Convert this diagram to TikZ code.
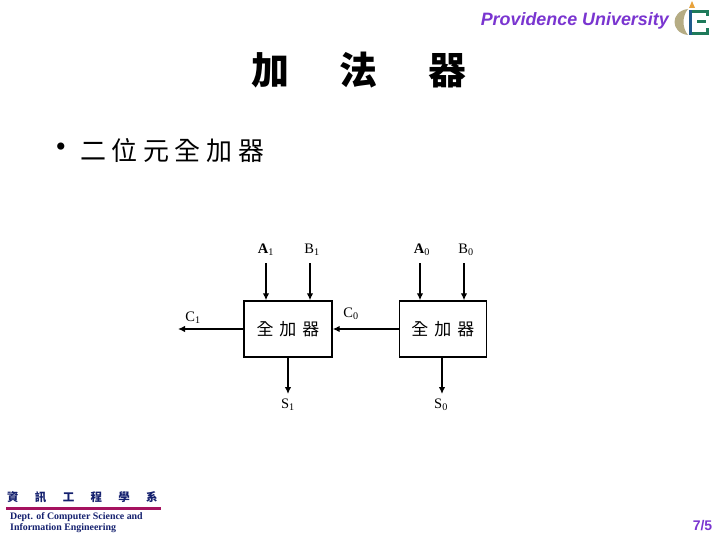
\documentclass[tikz,border=0pt]{standalone}
\usepackage{fontspec}
\setmainfont{Liberation Serif}
\setsansfont{Liberation Sans}
\newfontfamily\cjk{Noto Sans CJK TC}
\usetikzlibrary{positioning, arrows.meta, calc}
\definecolor{provPurple}{HTML}{7A35D0}
\definecolor{deptNavy}{HTML}{14206E}
\definecolor{ruleRed}{HTML}{A5125F}
\definecolor{logoTan}{HTML}{B5AC84}
\definecolor{logoGreen}{HTML}{1F7A5A}
\definecolor{logoBlue}{HTML}{1F5A8C}
\definecolor{logoFlame}{HTML}{E8A23C}

\begin{document}
\begin{tikzpicture}[
        x=1pt, y=-1pt,
        % Estilos de los nodos
        adder/.style={
            rectangle,
            draw=black,
            line width=1.4pt,
            minimum width=88pt,
            minimum height=56pt,
            inner sep=0pt,
            font=\cjk\fontsize{17}{17}\selectfont
        },
        portlabel/.style={inner sep=0pt, font=\fontsize{14.5}{14.5}\selectfont},
        % Estilos de las flechas
        arrow/.style={-{Latex[length=7pt,width=6.5pt]}, line width=1.3pt, color=black}
    ]
    \useasboundingbox (0,0) rectangle (720,540);

    % -- Encabezado --
    \node[inner sep=0pt, anchor=east, text=provPurple, font=\sffamily\bfseries\itshape\fontsize{17.9}{17.9}\selectfont] (univ) at (669,21) {Providence University};
    \fill[logoTan] (688,9) .. controls (670,11) and (670,33) .. (688,35) .. controls (682,28) and (682,16) .. (688,9) -- cycle;
    \fill[logoFlame] (692,1) -- (695,8) -- (689,8) -- cycle;
    \fill[logoBlue] (689,10) rectangle (692,35);
    \fill[logoGreen] (692,10) rectangle (709,13);
    \fill[logoGreen] (692,32) rectangle (709,35);
    \fill[logoGreen] (697,20) rectangle (706,23);
    \fill[logoGreen] (706,10) rectangle (709,16);
    \fill[logoGreen] (706,28) rectangle (709,35);

    \node[inner sep=0pt, font=\cjk\bfseries\fontsize{38}{38}\selectfont] (title) at (359,70) {加\hspace{50pt}法\hspace{51pt}器};
    \node[inner sep=0pt, font=\fontsize{30}{30}\selectfont] (bullet) at (61,150) {•};
    \node[inner sep=0pt, anchor=west, font=\cjk\fontsize{26}{26}\selectfont] (sub) at (80,151) {二\hspace{5.6pt}位\hspace{5.6pt}元\hspace{5.6pt}全\hspace{5.6pt}加\hspace{5.6pt}器};

    % -- Sumadores --
    \node[adder, minimum width=88pt] (fa1) at (288,329) {全\hspace{6pt}加\hspace{6pt}器};
    \node[adder, minimum width=87pt, right=66pt of fa1] (fa0) {全\hspace{6pt}加\hspace{6pt}器};

    % -- Etiquetas --
    \node[portlabel] (a1) at (266,250) {\textbf{A}\textsubscript{1}};
    \node[portlabel] (b1) at (312,250) {B\textsubscript{1}};
    \node[portlabel] (a0) at (422,250) {\textbf{A}\textsubscript{0}};
    \node[portlabel] (b0) at (466,250) {B\textsubscript{0}};
    \node[portlabel] (c1) at (193,318) {C\textsubscript{1}};
    \node[portlabel] (c0) at (351,314) {C\textsubscript{0}};
    \node[portlabel] (s1) at (288,405) {S\textsubscript{1}};
    \node[portlabel] (s0) at (441,405) {S\textsubscript{0}};

    % -- Extremos libres --
    \coordinate (a1top) at (266,263);
    \coordinate (b1top) at (310,263);
    \coordinate (a0top) at (420,263);
    \coordinate (b0top) at (464,263);
    \coordinate (c1end) at (178,329);
    \coordinate (s1end) at (288,394);
    \coordinate (s0end) at (442,394);

    % -- Conexiones --
    \draw[arrow] (a1top) -- (a1top |- fa1.north);
    \draw[arrow] (b1top) -- (b1top |- fa1.north);
    \draw[arrow] (a0top) -- (a0top |- fa0.north);
    \draw[arrow] (b0top) -- (b0top |- fa0.north);
    \draw[arrow] (fa0.west) -- (fa1.east);
    \draw[arrow] (fa1.west) -- (c1end);
    \draw[arrow] (s1end |- fa1.south) -- (s1end);
    \draw[arrow] (s0end |- fa0.south) -- (s0end);

    % -- Pie de pagina --
    \node[inner sep=0pt, anchor=west, text=deptNavy, font=\cjk\bfseries\fontsize{11.5}{11.5}\selectfont] (dept) at (7,497) {資\hspace{16.3pt}訊\hspace{16.3pt}工\hspace{16.3pt}程\hspace{16.3pt}學\hspace{16.3pt}系};
    \draw[ruleRed, line width=2.2pt] (6,508.5) -- (161,508.5);
    \node[inner sep=0pt, anchor=west, text=deptNavy, font=\bfseries\fontsize{9.9}{9.9}\selectfont] (csie) at (10,517) {Dept. of Computer Science and};
    \node[inner sep=0pt, anchor=west, text=deptNavy, font=\bfseries\fontsize{9.9}{9.9}\selectfont] (info) at (10,528) {Information Engineering};
    \node[inner sep=0pt, text=provPurple, font=\sffamily\bfseries\fontsize{14}{14}\selectfont] (page) at (702.5,526) {7/5};
\end{tikzpicture}
\end{document}
